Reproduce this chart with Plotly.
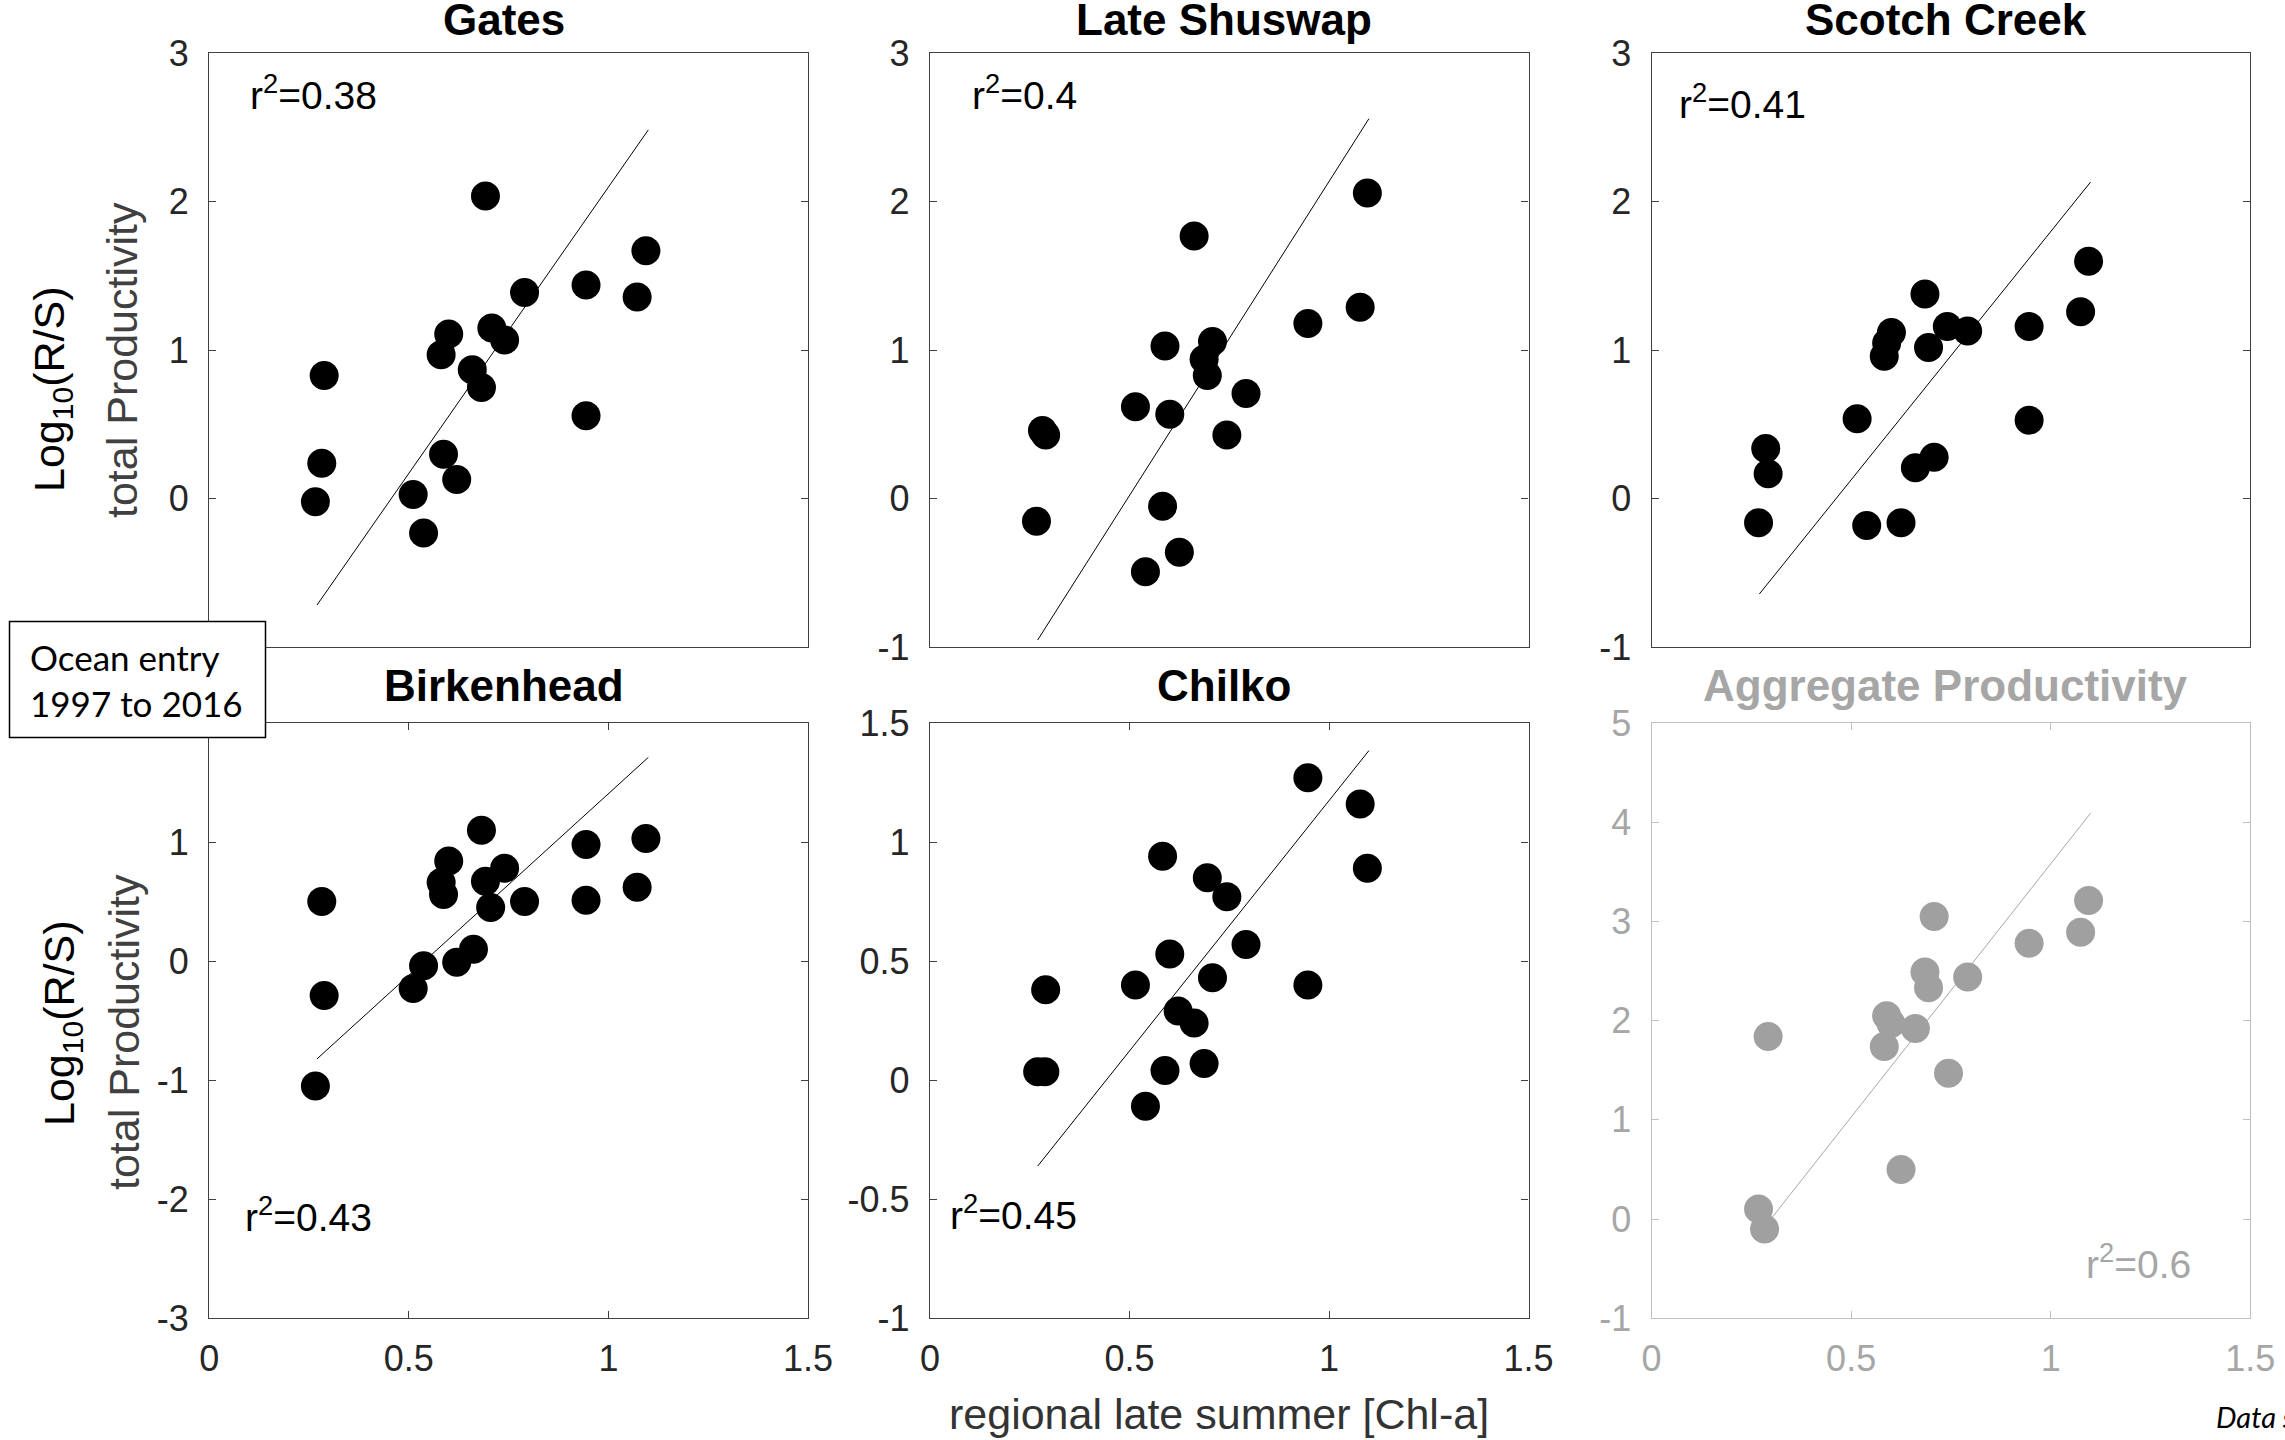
import numpy as np
import plotly.graph_objects as go

W, H = 2285, 1440

# ---------------- data ----------------
panel_titles = ["Gates", "Late Shuswap", "Scotch Creek", "Birkenhead", "Chilko", "Aggregate Productivity"]
r2_labels = ["0.38", "0.4", "0.41", "0.43", "0.45", "0.6"]

gates_x = [0.266, 0.282, 0.288, 0.511, 0.537, 0.581, 0.587, 0.600, 0.620, 0.659, 0.682, 0.692, 0.708, 0.740, 0.790, 0.944, 0.944, 1.072, 1.094]
gates_y = [-0.02, 0.24, 0.83, 0.03, -0.23, 0.97, 0.30, 1.11, 0.13, 0.87, 0.75, 2.04, 1.15, 1.07, 1.39, 1.44, 0.56, 1.36, 1.67]

shuswap_x = [0.267, 0.282, 0.290, 0.515, 0.540, 0.583, 0.589, 0.601, 0.625, 0.662, 0.687, 0.695, 0.708, 0.744, 0.792, 0.947, 1.078, 1.096]
shuswap_y = [-0.15, 0.46, 0.43, 0.62, -0.49, -0.05, 1.03, 0.57, -0.36, 1.77, 0.94, 0.83, 1.06, 0.43, 0.71, 1.18, 1.29, 2.06]

scotch_x = [0.268, 0.286, 0.292, 0.515, 0.539, 0.583, 0.589, 0.601, 0.625, 0.661, 0.685, 0.694, 0.708, 0.741, 0.792, 0.946, 0.946, 1.075, 1.095]
scotch_y = [-0.16, 0.34, 0.17, 0.54, -0.18, 0.96, 1.05, 1.12, -0.16, 0.21, 1.38, 1.02, 0.28, 1.16, 1.13, 1.16, 0.53, 1.26, 1.60]

birk_x = [0.266, 0.282, 0.288, 0.511, 0.537, 0.581, 0.587, 0.600, 0.620, 0.662, 0.682, 0.692, 0.705, 0.740, 0.790, 0.944, 0.944, 1.072, 1.094]
birk_y = [-1.05, 0.50, -0.29, -0.23, -0.04, 0.66, 0.56, 0.84, -0.01, 0.10, 1.10, 0.67, 0.45, 0.78, 0.50, 0.98, 0.51, 0.62, 1.03]

chilko_x = [0.270, 0.288, 0.290, 0.515, 0.540, 0.583, 0.589, 0.601, 0.622, 0.662, 0.687, 0.695, 0.708, 0.744, 0.792, 0.947, 0.947, 1.078, 1.096]
chilko_y = [0.035, 0.035, 0.38, 0.40, -0.11, 0.94, 0.04, 0.53, 0.29, 0.24, 0.07, 0.85, 0.43, 0.77, 0.57, 1.27, 0.40, 1.16, 0.89]

agg_x = [0.268, 0.283, 0.292, 0.583, 0.589, 0.600, 0.625, 0.661, 0.685, 0.694, 0.708, 0.744, 0.792, 0.946, 1.075, 1.095]
agg_y = [0.10, -0.10, 1.84, 1.74, 2.05, 1.97, 0.50, 1.92, 2.49, 2.33, 3.05, 1.47, 2.44, 2.78, 2.89, 3.21]

fit_slope = [3.855, 4.229, 3.342, 3.052, 2.103, 5.106]
fit_intercept = [-1.756, -2.092, -1.543, -1.646, -0.929, -1.526]
fit_x_range = [0.27, 1.10]

y_ranges = [[-1, 3], [-1, 3], [-1, 3], [-3, 2], [-1, 1.5], [-1, 5]]
y_dticks = [1, 1, 1, 1, 0.5, 1]
x_ticks = [0, 0.5, 1, 1.5]
# tick labels hidden under the "Ocean entry" box in the reference
hidden_ticks = {0: -1, 3: 2}

xs = [gates_x, shuswap_x, scotch_x, birk_x, chilko_x, agg_x]
ys = [gates_y, shuswap_y, scotch_y, birk_y, chilko_y, agg_y]

# ---------------- layout geometry (pixels) ----------------
col_px = [(209.2, 808.0), (929.9, 1528.6), (1651.6, 2250.2)]
row_px = [(53.3, 647.4), (723.0, 1318.2)]


def px(x):
    return x / W


def py(y):
    return 1 - y / H


FONT = "Liberation Sans, Arial, Helvetica, sans-serif"
BLACK_AX = "#404040"
TICK_TXT = "#262626"
GRAY = "#a6a6a6"
GRAY_AX = "#c0c0c0"
GRAY_DOT = "#a0a0a0"

fig = go.Figure()
layout = dict(
    template="none",
    width=W, height=H, autosize=False,
    margin=dict(l=0, r=0, t=0, b=0, pad=0, autoexpand=False),
    paper_bgcolor="white", plot_bgcolor="white",
    showlegend=False,
    annotations=[], shapes=[],
)

for i in range(6):
    r, c = divmod(i, 3)
    n = i + 1
    agg = (i == 5)
    ax_col = GRAY_AX if agg else BLACK_AX
    txt_col = GRAY if agg else TICK_TXT
    dot_col = GRAY_DOT if agg else "black"
    line_col = GRAY if agg else "black"
    xa = "x" if n == 1 else f"x{n}"
    ya = "y" if n == 1 else f"y{n}"

    # fit line (under the dots)
    fx = np.array(fit_x_range)
    fy = fit_slope[i] * fx + fit_intercept[i]
    fig.add_trace(go.Scatter(x=fx, y=fy, mode="lines", xaxis=xa, yaxis=ya,
                             line=dict(color=line_col, width=1), hoverinfo="skip"))
    fig.add_trace(go.Scatter(x=xs[i], y=ys[i], mode="markers", xaxis=xa, yaxis=ya,
                             marker=dict(color=dot_col, size=29, line=dict(width=0))))

    yr = y_ranges[i]
    yt = [float(v) for v in np.arange(yr[0], yr[1] + 1e-9, y_dticks[i])]
    ytxt = ["" if hidden_ticks.get(i) == v else f"{v:g}" for v in yt]
    xd = [px(col_px[c][0]), px(col_px[c][1])]
    yd = [py(row_px[r][1]), py(row_px[r][0])]

    xaxis = dict(domain=xd, anchor=ya, range=[0, 1.5], showgrid=False, zeroline=False,
                 automargin=False,
                 showline=True, linecolor=ax_col, linewidth=1.3,
                 tickfont=dict(family=FONT, size=36, color=txt_col))
    if r == 0:
        xaxis.update(mirror=True, ticks="", showticklabels=False)
    else:
        xaxis.update(mirror="ticks", ticks="inside", ticklen=7, tickwidth=1, tickcolor=ax_col,
                     tickmode="array", tickvals=x_ticks, ticktext=[f"{v:g}" for v in x_ticks],
                     ticklabelstandoff=8)
    yaxis = dict(domain=yd, anchor=xa, range=yr, showgrid=False, zeroline=False,
                 automargin=False,
                 showline=True, linecolor=ax_col, linewidth=1.3, mirror="ticks",
                 ticks="inside", ticklen=7, tickwidth=1, tickcolor=ax_col,
                 tickmode="array", tickvals=yt, ticktext=ytxt,
                 tickfont=dict(family=FONT, size=36, color=txt_col), ticklabelstandoff=12)
    layout["xaxis" if n == 1 else f"xaxis{n}"] = xaxis
    layout["yaxis" if n == 1 else f"yaxis{n}"] = yaxis

    # panel title
    cx = (col_px[c][0] + col_px[c][1]) / 2 - 5
    ty = 20 if r == 0 else 685
    layout["annotations"].append(dict(
        text=f"<b>{panel_titles[i]}</b>", x=px(cx), y=py(ty), xref="paper", yref="paper",
        xanchor="center", yanchor="middle", showarrow=False,
        font=dict(family=FONT, size=44, color=GRAY if agg else "black")))

# r^2 labels (left edge x, digit-centre y in pixels)
r2_pos = [(248, 92), (970, 93), (1677, 102), (243, 1214), (948, 1212), (2084, 1261)]
for i, (lx, ly) in enumerate(r2_pos):
    layout["annotations"].append(dict(
        text=f"r<sup>2</sup>=" + r2_labels[i], x=px(lx), y=py(ly), xref="paper", yref="paper",
        xanchor="left", yanchor="middle", showarrow=False,
        font=dict(family=FONT, size=39, color=GRAY if i == 5 else "black")))

# y-axis titles
for (lx1, ly1, lx2, ly2) in [(52, 389, 122, 360), (62, 1023, 124, 1032)]:
    layout["annotations"].append(dict(
        text="Log<sub>10</sub>(R/S)", x=px(lx1), y=py(ly1), xref="paper", yref="paper",
        xanchor="center", yanchor="middle", textangle=-90, showarrow=False,
        font=dict(family=FONT, size=43, color="black")))
    layout["annotations"].append(dict(
        text="total Productivity", x=px(lx2), y=py(ly2), xref="paper", yref="paper",
        xanchor="center", yanchor="middle", textangle=-90, showarrow=False,
        font=dict(family=FONT, size=43, color="#404040")))

# x-axis title
layout["annotations"].append(dict(
    text="regional late summer [Chl-a]", x=px(1219), y=py(1414), xref="paper", yref="paper",
    xanchor="center", yanchor="middle", showarrow=False,
    font=dict(family=FONT, size=43, color="#333333")))

# Ocean entry box
layout["shapes"].append(dict(type="rect", xref="paper", yref="paper",
                             x0=px(9.5), x1=px(265.5), y0=py(737.5), y1=py(621.5),
                             fillcolor="white", line=dict(color="black", width=1.5), layer="above"))
layout["annotations"].append(dict(
    text="Ocean entry<br>1997 to 2016", x=px(28), y=py(680), xref="paper", yref="paper",
    xanchor="left", yanchor="middle", align="left", showarrow=False,
    font=dict(family="Lato, Carlito, Open Sans, sans-serif", size=35, color="black")))

# cut-off source note
layout["annotations"].append(dict(
    text="<i>Data s</i>", x=px(2214), y=py(1416), xref="paper", yref="paper",
    xanchor="left", yanchor="middle", showarrow=False,
    font=dict(family="Lato, Carlito, Open Sans, sans-serif", size=29, color="black")))

fig.update_layout(**layout)
fig.write_html("out.html", config={"displayModeBar": False},
               post_script="document.body.style.margin='0px';")
